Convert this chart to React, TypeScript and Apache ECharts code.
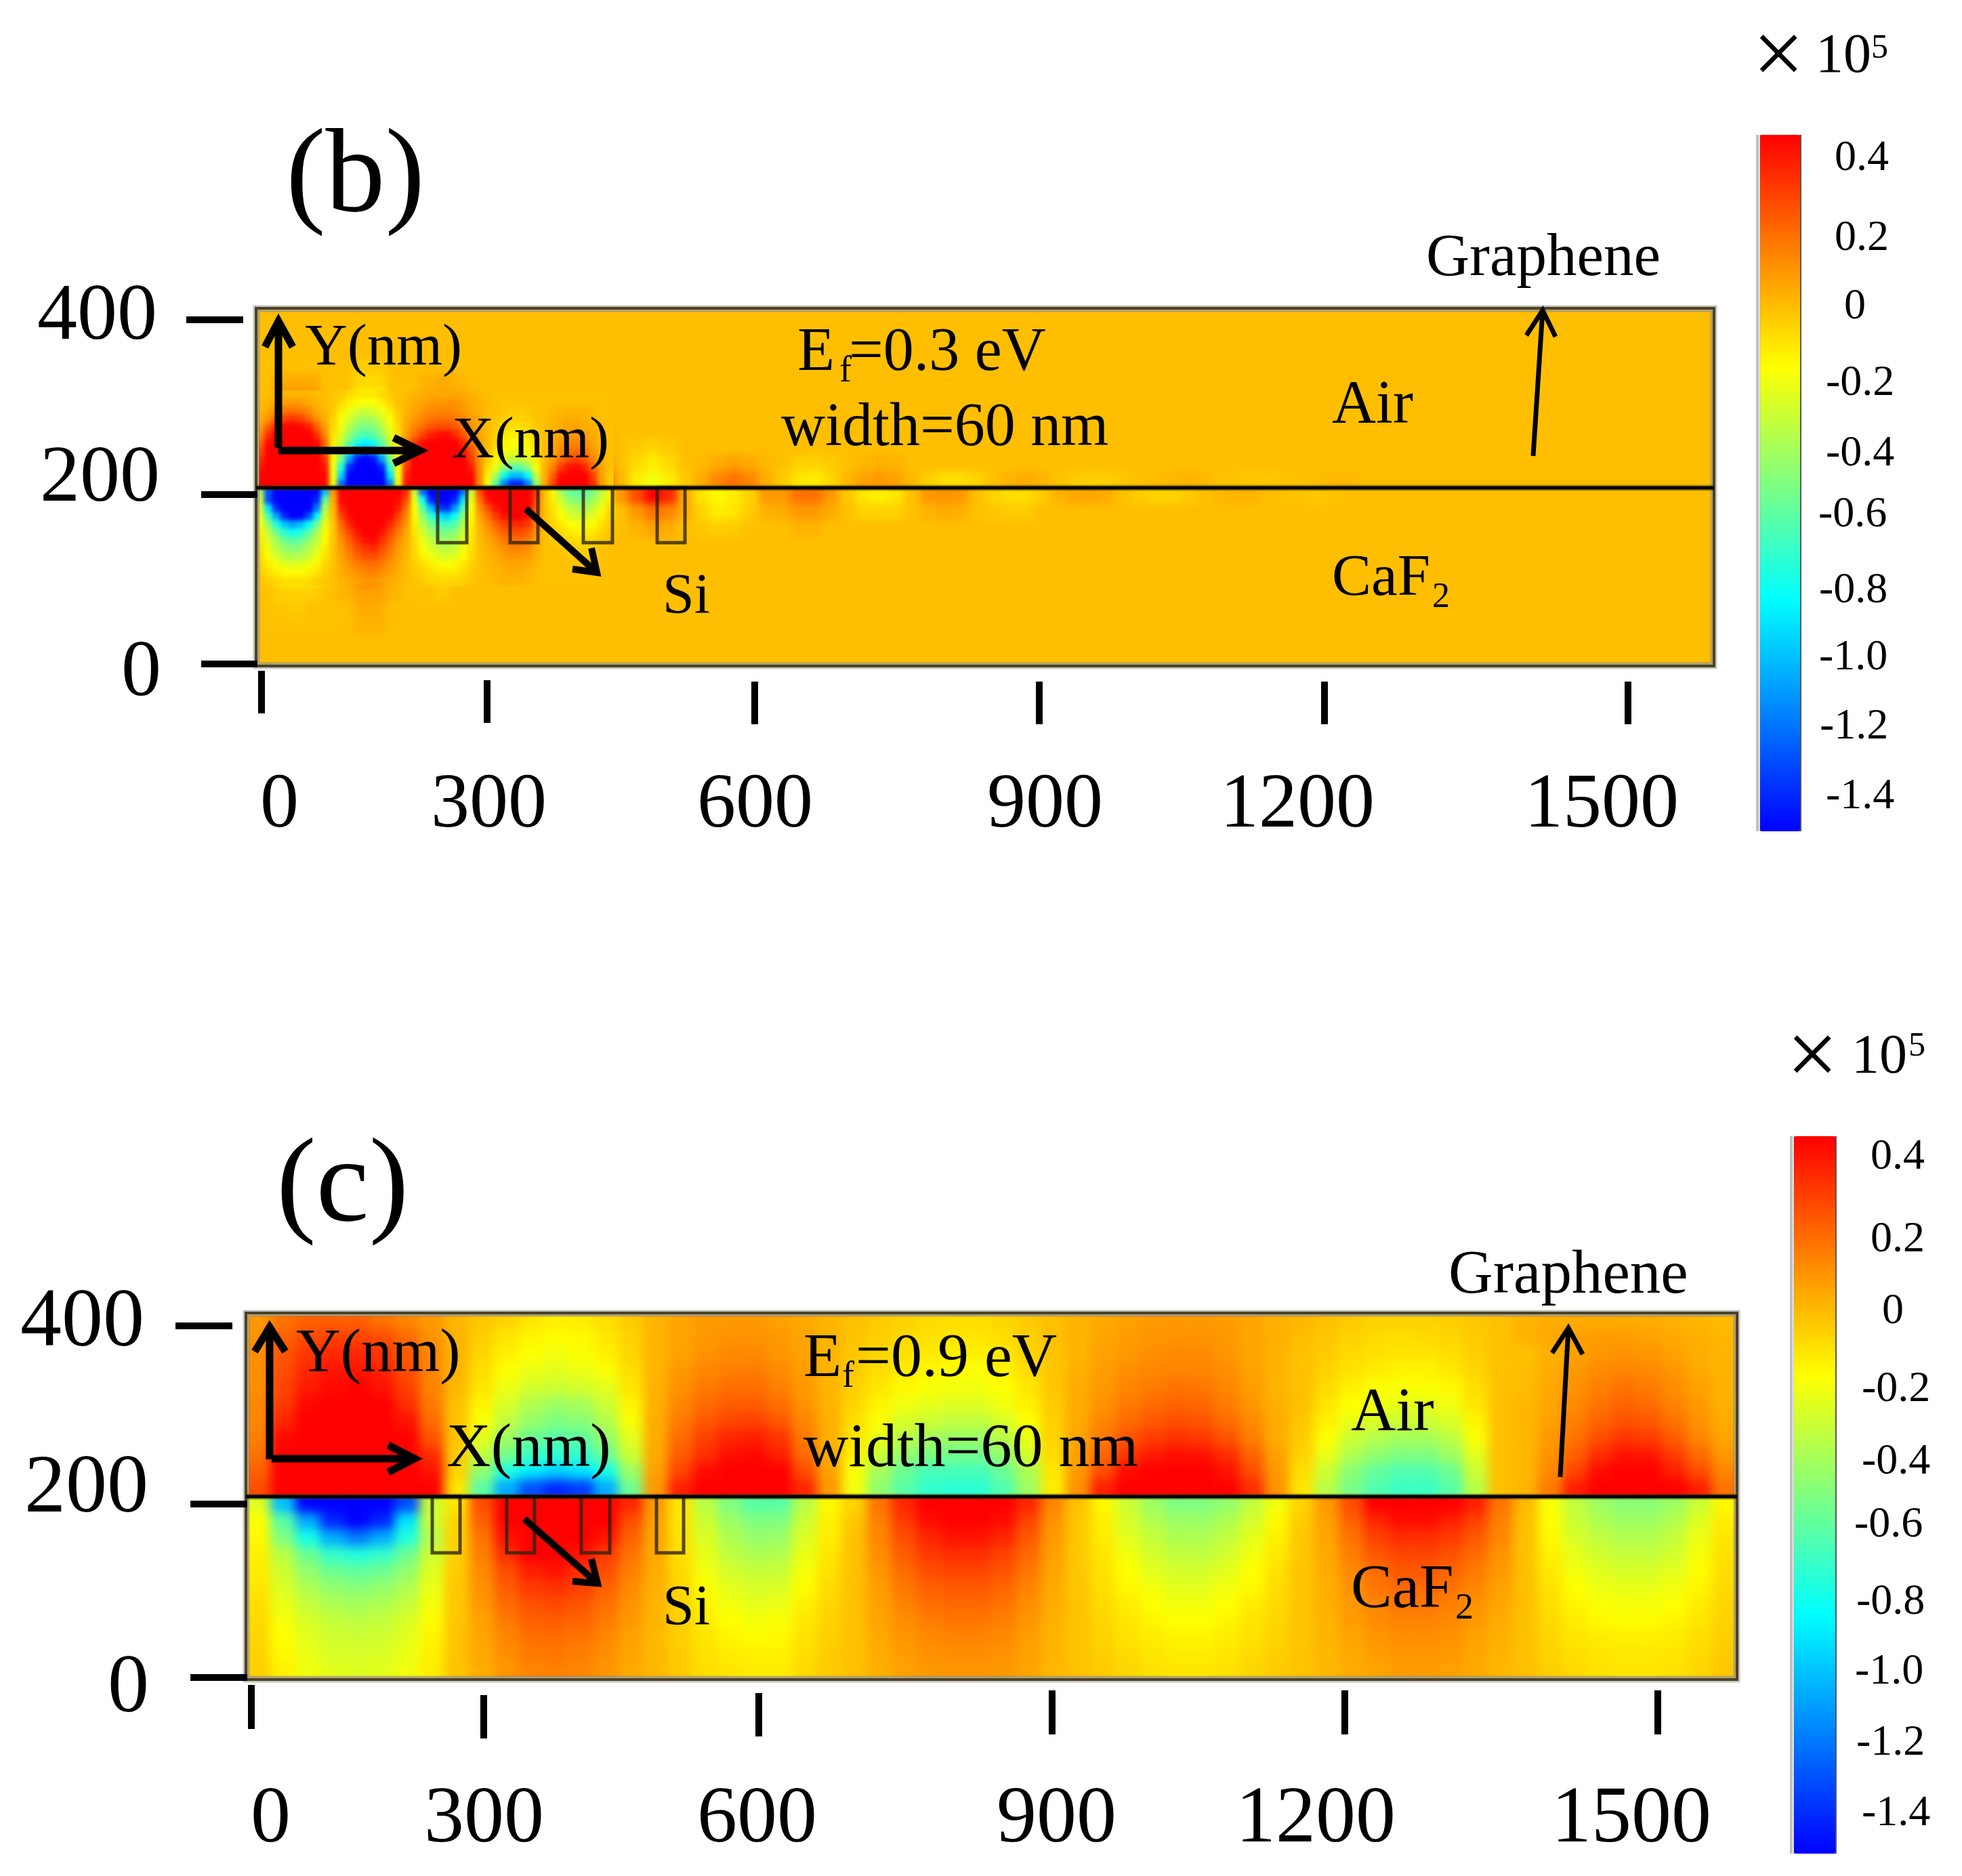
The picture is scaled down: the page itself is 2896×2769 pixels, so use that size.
import { useEffect, useRef } from 'react';
import * as echarts from 'echarts';

// colour scale of the field map, evenly spaced between scaleMin and scaleMax
const scaleMin = -1.5;
const scaleMax = 0.5;
const rainbow = ['#0000ff', '#0080ff', '#00ffff', '#80ff80', '#ffff00', '#ff8000', '#ff0000'];
const zeroColor = '#ffbf00';

const xTickLabels = ['0', '300', '600', '900', '1200', '1500'];
const yTickLabels = ['400', '200', '0'];
const barLabels = ['0.4', '0.2', '0', '-0.2', '-0.4', '-0.6', '-0.8', '-1.0', '-1.2', '-1.4'];

// field values, x10^5, top row first. Rows stop where the field has fallen to 0.
const airB = [
  [], [], [],
  [0, 0, 0, 0, 0, 0, -.03, -.03],
  [0, .05, .05, .05, 0, 0, -.07, -.07, 0, 0, .03, .05, .03],
  [0, .15, .17, .12, 0, -.02, -.15, -.15, -.02, 0, .07, .1, .08, .02],
  [.05, .35, .4, .3, .05, -.1, -.3, -.3, -.1, .05, .15, .2, .15, .05, 0, -.05, -.05, 0, 0, 0, .03],
  [.2, .5, .5, .5, .2, -.2, -.55, -.55, -.2, .1, .35, .45, .3, .05, 0, -.1, -.1, 0, 0, .05, .1, .05],
  [.3, .5, .5, .5, .3, -.4, -.95, -.95, -.5, .2, .5, .5, .5, .1, -.05, -.2, -.2, -.05, .05, .1, .2, .1, 0, -.03, -.05, -.03],
  [.4, .5, .5, .5, .4, -.9, -1.5, -1.5, -1.1, .4, .5, .5, .5, .3, -.15, -.55, -.5, -.15, .1, .3, .4, .2, 0, -.07, -.12, -.07, 0, .02, .05, .08, .06, .02, 0, -.04, -.05, -.03, 0, .02, .04, .03],
  [.5, .5, .5, .5, .3, -1.3, -1.5, -1.5, -1.4, .45, .5, .5, .5, .3, -.5, -1.2, -1.2, -.5, .05, .5, .5, .4, .02, -.12, -.2, -.12, -.03, .05, .15, .2, .15, .05, -.03, -.1, -.12, -.06, .02, .08, .1, .08, .02, -.04, -.08, -.08, -.05, 0, .03, .05, .03, 0, -.03, -.04, -.04, -.02, 0, .01, .02, .03, .02, 0, -.01, -.02, -.02, -.01, 0, .01, .02, .02],
];
const cafB = [
  [-1, -1.5, -1.5, -1.5, -.9, .5, .5, .5, .5, 0, -1.3, -1.5, -1.2, 0, .5, .5, .5, .3, -.1, -.5, -.5, -.3, .1, .3, .5, .4, .05, -.1, -.15, -.12, -.05, .1, .1, .2, .2, .1, -.02, -.1, -.13, -.1, 0, .1, .12, .1, 0, -.05, -.08, -.08, -.03, .03, .06, .07, .05, 0, -.03, -.05, -.05, -.03, 0, .02, .03, .03, .01, 0, -.01, -.02, -.01],
  [-.9, -1.5, -1.5, -1.5, -.1, .4, .5, .5, .4, -.1, -.8, -1.2, -.8, -.1, .2, .5, .45, .2, 0, -.15, -.25, -.15, 0, .1, .2, .15, .05, -.05, -.12, -.1, -.03, .03, .05, .1, .1, .05, 0, -.05, -.05, -.05, 0, .03, .05, .04, 0, -.02, -.03, -.03],
  [-.35, -.7, -.85, -.7, -.15, .25, .5, .5, .25, -.05, -.3, -.5, -.35, -.05, .1, .25, .2, .05, 0, -.05, -.08, -.05, 0, .03, .08, .05, 0, -.02, -.04, -.03, 0, 0, 0, .03, .03],
  [-.1, -.35, -.45, -.35, -.1, .15, .45, .45, .15, -.03, -.15, -.22, -.15, -.03, .05, .1, .1, .03],
  [-.05, -.2, -.25, -.2, -.05, .1, .25, .25, .1, 0, -.08, -.12, -.08, 0, 0, .05, .05],
  [-.03, -.12, -.15, -.12, -.03, .05, .18, .18, .05, 0, -.05, -.06, -.05],
  [0, -.04, -.05, -.04, 0, .03, .08, .08, .03, 0, 0, -.03],
  [0, -.02, -.03, 0, 0, 0, .05, .05],
  [0, 0, 0, 0, 0, 0, .03, .03],
  [],
  [],
];

// finer reading of the strong lobes at the left of panel (b), 12px cells
const lobesAirB = [
  [0, .01, .02, .03, .03, .03, .02, .01, 0, -.01, -.03, -.07, -.1, -.11, -.1, -.07, -.03, 0, .01, .03, .04, .05, .06, .06, .06, .05, .03, .02, .01, 0, 0, 0, 0, 0, 0, 0, 0, 0, 0, 0, 0, 0, 0, 0],
  [.01, .03, .06, .09, .1, .09, .06, .03, .01, -.02, -.07, -.13, -.17, -.18, -.17, -.13, -.06, -.01, .02, .05, .08, .1, .11, .12, .12, .09, .06, .03, .01, 0, -.01, -.01, -.01, 0, 0, 0, 0, 0, 0, 0, 0, 0, 0, 0],
  [.02, .06, .13, .18, .2, .18, .13, .06, .02, -.03, -.12, -.2, -.27, -.3, -.27, -.2, -.11, -.02, .03, .07, .11, .14, .15, .15, .14, .11, .07, .04, .01, 0, -.02, -.03, -.03, -.02, -.01, 0, .01, .02, .03, .03, .03, .01, 0, 0],
  [.04, .12, .24, .33, .36, .33, .24, .12, .04, -.05, -.17, -.28, -.37, -.4, -.37, -.28, -.16, -.04, .05, .1, .15, .19, .21, .21, .19, .15, .09, .05, .01, -.01, -.04, -.05, -.05, -.04, -.01, 0, .02, .04, .05, .05, .04, .02, 0, 0],
  [.08, .25, .42, .48, .5, .48, .42, .25, .08, -.07, -.21, -.36, -.48, -.52, -.48, -.36, -.21, -.06, .07, .15, .22, .28, .31, .31, .27, .2, .12, .06, .01, -.03, -.06, -.08, -.08, -.06, -.02, 0, .03, .05, .07, .07, .06, .03, .01, 0],
  [.14, .38, .5, .5, .5, .5, .5, .38, .14, -.09, -.26, -.45, -.6, -.65, -.6, -.45, -.25, -.08, .1, .22, .33, .42, .47, .47, .4, .28, .16, .07, .01, -.05, -.1, -.13, -.13, -.1, -.04, 0, .04, .07, .1, .11, .09, .05, .01, 0],
  [.22, .48, .5, .5, .5, .5, .5, .48, .22, -.12, -.33, -.58, -.78, -.85, -.78, -.58, -.32, -.1, .15, .35, .47, .5, .5, .5, .5, .4, .22, .09, .01, -.07, -.14, -.17, -.17, -.14, -.06, 0, .05, .1, .14, .15, .12, .07, .02, 0],
  [.3, .5, .5, .5, .5, .5, .5, .5, .3, -.15, -.42, -.78, -1.1, -1.25, -1.1, -.78, -.4, -.13, .22, .45, .5, .5, .5, .5, .5, .48, .28, .1, 0, -.1, -.18, -.22, -.22, -.18, -.08, .01, .07, .14, .2, .22, .18, .1, .03, 0],
  [.38, .5, .5, .5, .5, .5, .5, .5, .38, -.17, -.55, -1.1, -1.45, -1.5, -1.45, -1.1, -.52, -.15, .3, .5, .5, .5, .5, .5, .5, .5, .35, .12, -.03, -.14, -.26, -.32, -.32, -.26, -.12, .02, .1, .22, .3, .33, .27, .15, .05, 0],
  [.44, .5, .5, .5, .5, .5, .5, .5, .44, -.2, -.75, -1.4, -1.5, -1.5, -1.5, -1.4, -.72, -.17, .35, .5, .5, .5, .5, .5, .5, .5, .42, .13, -.08, -.22, -.45, -.6, -.6, -.45, -.18, .03, .16, .35, .45, .48, .4, .22, .07, 0],
  [.48, .5, .5, .5, .5, .5, .5, .5, .48, -.2, -.95, -1.5, -1.5, -1.5, -1.5, -1.5, -.9, -.18, .42, .5, .5, .5, .5, .5, .5, .5, .48, .14, -.13, -.4, -.8, -1, -1, -.8, -.3, .04, .25, .48, .5, .5, .5, .32, .08, -.02],
  [.5, .5, .5, .5, .5, .5, .5, .5, .48, -.22, -1.2, -1.5, -1.5, -1.5, -1.5, -1.5, -1.15, -.2, .45, .5, .5, .5, .5, .5, .5, .5, .5, .15, -.2, -.6, -1.15, -1.4, -1.4, -1.15, -.45, .05, .32, .5, .5, .5, .5, .38, .1, -.03],
];
const lobesCafB = [
  [-.4, -1.3, -1.5, -1.5, -1.5, -1.5, -1.5, -1.5, -1, .1, .5, .5, .5, .5, .5, .5, .5, .5, .4, -.3, -1.2, -1.5, -1.5, -1.5, -1.5, -1.2, -.3, .3, .5, .5, .5, .5, .5, .5, .35, 0, -.15, -.4, -.55, -.6, -.6, -.5, -.35, -.15],
  [-.3, -1.3, -1.5, -1.5, -1.5, -1.5, -1.5, -1.4, -.6, .05, .48, .5, .5, .5, .5, .5, .5, .48, .3, -.22, -.8, -1.4, -1.5, -1.5, -1.4, -.9, -.22, .2, .45, .5, .5, .5, .5, .5, .3, 0, -.12, -.3, -.45, -.5, -.5, -.42, -.28, -.12],
  [-.25, -.9, -1.4, -1.5, -1.5, -1.5, -1.5, -1.2, -.4, .02, .42, .5, .5, .5, .5, .5, .5, .43, .2, -.17, -.6, -1, -1.35, -1.4, -1.1, -.65, -.18, .12, .3, .45, .5, .5, .5, .5, .25, 0, -.1, -.22, -.33, -.38, -.38, -.32, -.2, -.08],
  [-.2, -.65, -1.05, -1.4, -1.5, -1.5, -1.3, -.85, -.3, 0, .32, .48, .5, .5, .5, .5, .48, .33, .14, -.15, -.45, -.7, -.9, -.95, -.8, -.48, -.15, .07, .2, .35, .45, .5, .5, .45, .2, 0, -.08, -.16, -.25, -.28, -.28, -.24, -.14, -.05],
  [-.17, -.45, -.75, -.98, -1.08, -1, -.82, -.55, -.22, -.02, .24, .4, .5, .5, .5, .5, .4, .25, .1, -.12, -.35, -.52, -.65, -.68, -.6, -.38, -.13, .04, .13, .25, .33, .4, .4, .35, .15, 0, -.05, -.11, -.17, -.2, -.2, -.16, -.09, -.03],
  [-.14, -.33, -.55, -.72, -.8, -.74, -.6, -.4, -.18, -.02, .18, .32, .45, .5, .5, .45, .32, .18, .07, -.1, -.27, -.4, -.5, -.52, -.47, -.3, -.11, .02, .09, .17, .25, .3, .3, .26, .12, 0, -.03, -.07, -.11, -.13, -.13, -.1, -.05, -.01],
  [-.11, -.27, -.42, -.54, -.6, -.56, -.46, -.32, -.15, -.02, .13, .25, .37, .46, .48, .37, .25, .13, .05, -.08, -.21, -.32, -.4, -.42, -.38, -.25, -.09, .01, .06, .12, .18, .22, .22, .18, .08, 0, -.02, -.04, -.07, -.08, -.08, -.06, -.03, 0],
  [-.09, -.22, -.34, -.43, -.48, -.45, -.37, -.26, -.12, -.01, .1, .2, .3, .36, .38, .3, .2, .1, .03, -.06, -.17, -.26, -.32, -.34, -.3, -.2, -.08, 0, .04, .08, .12, .16, .16, .13, .05, 0, 0, -.02, -.04, -.05, -.05, -.03, -.01, 0],
  [-.07, -.18, -.27, -.34, -.37, -.35, -.3, -.21, -.1, -.01, .08, .16, .24, .29, .3, .24, .16, .08, .02, -.05, -.13, -.2, -.25, -.27, -.24, -.17, -.07, 0, .03, .05, .09, .11, .11, .09, .03, 0, 0, -.01, -.02, -.03, -.03, -.02, 0, 0],
  [-.05, -.12, -.18, -.23, -.24, -.23, -.2, -.14, -.06, -.01, .06, .11, .17, .2, .21, .17, .11, .06, .01, -.04, -.08, -.12, -.15, -.16, -.14, -.1, -.05, 0, .02, .04, .06, .07, .07, .05, .02, 0, 0, 0, -.01, -.01, -.01, -.01, 0, 0],
  [-.03, -.08, -.12, -.15, -.16, -.15, -.13, -.09, -.04, 0, .05, .08, .12, .15, .16, .13, .08, .05, .01, -.03, -.05, -.08, -.1, -.11, -.1, -.07, -.03, 0, .01, .03, .04, .05, .05, .04, .01, 0, 0, 0, 0, 0, 0, 0, 0, 0],
  [-.01, -.04, -.06, -.08, -.08, -.08, -.07, -.04, -.02, 0, .03, .05, .08, .1, .11, .08, .05, .03, 0, -.01, -.03, -.05, -.06, -.06, -.05, -.04, -.02, 0, .01, .02, .03, .03, .03, .02, .01, 0, 0, 0, 0, 0, 0, 0, 0, 0],
];

// field values, x10^5, top row first
const airC = [
  [.1, .2, .25, .25, .25, .2, .15, .1, .03, -.02, -.05, -.1, -.13, -.12, -.08, -.03, .03, .07, .1, .1, .1, .08, .06, .03, 0, -.03, -.05, -.07, -.08, -.08, -.06, -.03, 0, .03, .06, .08, .1, .1, .1, .09, .07, .04, .02, 0, -.03, -.05, -.05, -.05, -.04, -.02, 0, .03, .05, .05, .06, .05, .05, .04, .02, .01],
  [.12, .25, .3, .33, .33, .3, .22, .12, .03, -.04, -.1, -.14, -.16, -.15, -.11, -.05, .03, .07, .1, .12, .12, .1, .07, .03, -.01, -.04, -.07, -.09, -.1, -.1, -.08, -.04, 0, .03, .07, .09, .11, .12, .12, .1, .07, .04, .01, -.02, -.05, -.07, -.08, -.07, -.06, -.03, 0, .03, .06, .08, .09, .09, .08, .06, .04, .02],
  [.13, .28, .36, .4, .4, .36, .27, .14, .03, -.06, -.13, -.17, -.2, -.18, -.13, -.06, .03, .08, .12, .14, .14, .11, .08, .03, -.02, -.06, -.09, -.11, -.13, -.13, -.1, -.06, -.01, .03, .08, .1, .13, .14, .14, .11, .07, .03, 0, -.03, -.07, -.09, -.1, -.1, -.08, -.04, 0, 0, .04, .08, .11, .12, .11, .08, .05, .03],
  [.13, .3, .4, .45, .45, .42, .3, .15, .03, -.08, -.17, -.22, -.24, -.22, -.18, -.08, .03, .1, .15, .17, .18, .14, .09, .03, -.03, -.08, -.12, -.15, -.17, -.17, -.14, -.08, -.02, .04, .09, .13, .15, .16, .16, .13, .08, .03, 0, -.05, -.09, -.12, -.14, -.14, -.11, -.06, 0, .01, .05, .1, .14, .16, .14, .11, .06, .03],
  [.13, .32, .43, .48, .5, .45, .33, .16, .02, -.1, -.22, -.28, -.3, -.28, -.24, -.1, .04, .12, .18, .21, .21, .17, .1, .03, -.04, -.1, -.15, -.18, -.2, -.2, -.17, -.1, -.02, .05, .1, .15, .18, .2, .19, .15, .09, .03, 0, -.07, -.13, -.17, -.18, -.18, -.15, -.08, 0, .01, .06, .12, .17, .2, .18, .13, .08, .03],
  [.15, .35, .48, .5, .5, .5, .38, .18, 0, -.14, -.27, -.37, -.42, -.4, -.3, -.14, .04, .15, .22, .26, .26, .21, .12, .03, -.06, -.14, -.2, -.23, -.25, -.25, -.2, -.13, -.03, .05, .12, .18, .22, .24, .23, .18, .11, .04, 0, -.1, -.17, -.2, -.23, -.23, -.2, -.1, 0, .02, .07, .14, .2, .24, .22, .16, .1, .04],
  [.15, .4, .5, .5, .5, .5, .45, .22, -.01, -.18, -.33, -.44, -.5, -.48, -.37, -.18, .05, .18, .27, .32, .33, .27, .15, .04, -.08, -.18, -.27, -.3, -.33, -.33, -.27, -.17, -.04, .06, .15, .22, .27, .3, .28, .22, .14, .05, -.02, -.13, -.22, -.27, -.3, -.3, -.26, -.14, 0, .02, .08, .17, .24, .29, .27, .2, .12, .05],
  [.17, .48, .5, .5, .5, .5, .5, .28, -.02, -.24, -.42, -.55, -.6, -.58, -.45, -.24, .05, .22, .33, .4, .42, .36, .18, .04, -.1, -.22, -.35, -.4, -.43, -.43, -.35, -.22, -.05, .07, .18, .28, .34, .37, .35, .28, .17, .05, -.03, -.17, -.3, -.36, -.4, -.4, -.34, -.18, 0, .02, .1, .2, .3, .36, .34, .26, .15, .07],
  [.2, .5, .5, .5, .5, .5, .5, .38, -.03, -.32, -.52, -.68, -.72, -.7, -.55, -.3, .06, .26, .38, .46, .48, .42, .22, .06, -.13, -.3, -.45, -.5, -.53, -.53, -.45, -.28, -.07, .08, .23, .36, .43, .46, .45, .38, .24, .08, -.05, -.22, -.37, -.45, -.5, -.5, -.42, -.24, 0, .02, .12, .25, .38, .45, .44, .34, .22, .1],
  [.25, .5, .5, .5, .5, .5, .5, .45, -.05, -.45, -.75, -.88, -.95, -.9, -.78, -.42, .08, .32, .47, .5, .5, .5, .3, .08, -.18, -.4, -.55, -.65, -.65, -.65, -.55, -.38, -.1, .1, .3, .47, .5, .5, .5, .45, .3, .1, -.08, -.3, -.47, -.57, -.62, -.62, -.55, -.3, 0, .02, .14, .32, .47, .5, .5, .42, .3, .15],
  [.3, .5, .5, .5, .5, .5, .5, .5, -.1, -.6, -1.05, -1.3, -1.4, -1.35, -1.05, -.55, .1, .42, .5, .5, .5, .5, .4, .1, -.2, -.45, -.6, -.7, -.72, -.72, -.62, -.42, -.12, .12, .42, .5, .5, .5, .5, .5, .38, .12, -.1, -.35, -.52, -.62, -.68, -.68, -.6, -.35, 0, .03, .18, .42, .5, .5, .5, .5, .42, .2],
];
const cafC = [
  [-.25, -1, -1.5, -1.5, -1.5, -1.5, -1.3, -.3, -.1, .3, .5, .5, .5, .5, .5, .4, .1, -.1, -.35, -.5, -.6, -.6, -.35, -.15, -.05, .2, .4, .5, .5, .5, .5, .4, .15, 0, -.15, -.3, -.42, -.5, -.5, -.45, -.33, -.2, -.05, .1, .3, .5, .5, .5, .5, .42, .2, .02, -.18, -.33, -.42, -.47, -.47, -.42, -.3, -.15],
  [-.17, -.6, -1.05, -1.4, -1.5, -1.4, -.9, -.3, -.05, .25, .5, .5, .5, .5, .5, .3, .08, -.1, -.3, -.43, -.5, -.5, -.3, -.13, -.02, .17, .35, .47, .5, .5, .47, .32, .12, -.02, -.13, -.27, -.37, -.43, -.43, -.38, -.28, -.15, -.03, .08, .25, .4, .47, .47, .42, .33, .17, 0, -.16, -.3, -.38, -.42, -.42, -.37, -.25, -.12],
  [-.15, -.5, -.78, -1.05, -1.18, -1.05, -.75, -.35, -.05, .2, .45, .5, .5, .5, .45, .25, .07, -.09, -.26, -.38, -.44, -.43, -.26, -.12, 0, .15, .3, .4, .45, .45, .4, .27, .1, -.02, -.12, -.24, -.32, -.38, -.38, -.33, -.24, -.13, -.02, .07, .2, .33, .38, .38, .35, .27, .15, 0, -.15, -.27, -.33, -.37, -.37, -.32, -.22, -.1],
  [-.13, -.35, -.55, -.7, -.75, -.7, -.55, -.3, -.04, .17, .38, .5, .5, .45, .35, .2, .06, -.08, -.23, -.33, -.38, -.37, -.22, -.1, 0, .13, .26, .35, .38, .38, .33, .23, .08, -.02, -.1, -.2, -.28, -.33, -.33, -.28, -.2, -.11, -.02, .06, .17, .27, .32, .32, .29, .22, .12, 0, -.13, -.23, -.29, -.32, -.32, -.28, -.19, -.09],
  [-.12, -.3, -.45, -.55, -.58, -.55, -.45, -.25, -.03, .14, .3, .42, .45, .38, .3, .17, .05, -.07, -.2, -.28, -.32, -.31, -.19, -.09, 0, .11, .22, .3, .32, .32, .28, .19, .07, -.02, -.09, -.17, -.24, -.28, -.28, -.24, -.17, -.09, -.01, .05, .14, .22, .27, .27, .24, .18, .1, 0, -.11, -.2, -.25, -.27, -.27, -.24, -.16, -.08],
  [-.1, -.26, -.38, -.45, -.48, -.45, -.38, -.22, -.02, .12, .26, .35, .37, .33, .25, .14, .04, -.06, -.17, -.24, -.27, -.26, -.16, -.07, 0, .09, .19, .25, .27, .27, .24, .16, .06, -.02, -.08, -.15, -.2, -.24, -.24, -.2, -.15, -.08, -.01, .04, .12, .19, .23, .23, .2, .15, .08, 0, -.09, -.17, -.21, -.23, -.23, -.2, -.14, -.07],
  [-.08, -.22, -.32, -.38, -.4, -.38, -.32, -.19, -.02, .1, .22, .29, .31, .28, .21, .12, .03, -.05, -.14, -.2, -.23, -.22, -.13, -.06, 0, .08, .16, .21, .23, .23, .2, .13, .05, -.01, -.07, -.12, -.17, -.2, -.2, -.17, -.12, -.07, -.01, .04, .1, .16, .19, .19, .17, .12, .07, 0, -.08, -.14, -.18, -.19, -.19, -.17, -.12, -.06],
  [-.07, -.19, -.27, -.32, -.34, -.32, -.27, -.16, -.02, .08, .18, .25, .26, .24, .18, .1, .03, -.04, -.12, -.17, -.19, -.18, -.11, -.05, 0, .07, .13, .17, .19, .19, .17, .11, .04, -.01, -.06, -.1, -.14, -.17, -.17, -.14, -.1, -.06, -.01, .03, .09, .13, .16, .16, .14, .1, .05, 0, -.07, -.12, -.15, -.16, -.16, -.14, -.1, -.05],
  [-.06, -.17, -.24, -.29, -.3, -.29, -.24, -.14, -.01, .07, .15, .21, .22, .2, .15, .08, .02, -.04, -.1, -.14, -.16, -.15, -.09, -.04, 0, .06, .11, .14, .16, .16, .14, .09, .03, -.01, -.05, -.09, -.12, -.14, -.14, -.12, -.09, -.05, -.01, .03, .07, .11, .13, .13, .12, .08, .04, 0, -.06, -.1, -.12, -.13, -.13, -.12, -.08, -.04],
  [-.05, -.15, -.22, -.26, -.27, -.26, -.22, -.13, -.01, .06, .13, .18, .19, .17, .13, .07, .02, -.03, -.09, -.12, -.13, -.13, -.08, -.03, 0, .05, .09, .12, .13, .13, .12, .08, .03, -.01, -.04, -.07, -.1, -.12, -.12, -.1, -.07, -.04, -.01, .02, .06, .09, .11, .11, .1, .07, .03, 0, -.05, -.08, -.1, -.11, -.11, -.1, -.07, -.03],
  [-.04, -.13, -.2, -.24, -.25, -.24, -.2, -.12, -.01, .05, .11, .15, .16, .15, .11, .06, .02, -.03, -.08, -.1, -.12, -.12, -.07, -.03, 0, .04, .08, .1, .11, .11, .1, .07, .02, -.01, -.03, -.06, -.09, -.1, -.1, -.09, -.06, -.03, -.01, .02, .05, .07, .09, .09, .08, .06, .02, 0, -.04, -.07, -.09, -.1, -.1, -.09, -.06, -.02],
];

// layout in page pixels. The scales in the figure are hand placed and not even, so they are listed.
const FONT = 'Liberation Serif';
const panels = [
  {
    frame: [378, 455, 2530, 983], line: 720, cols: 90, blur: 6, air: airB, caf: cafB,
    lobes: [
      { rows: lobesAirB, box: [378, 576, 528, 144] },
      { rows: lobesCafB, box: [378, 720, 528, 144] },
    ],
    si: [[646, 689], [753, 794], [861, 904], [970, 1011]], siBottom: 801,
    xTicks: [[386, 990, 1053], [719, 1004, 1067], [1114, 1006, 1069], [1534, 1006, 1069], [1955, 1006, 1069], [2403, 1006, 1069]],
    xLabelX: [384, 636, 1029, 1457, 1801, 2250], xLabelY: 1181, xLabelSize: 114,
    yTicks: [[275, 359, 472], [297, 380, 730], [297, 380, 980]],
    yLabelPos: [[55, 460], [59, 699], [179, 986]], yLabelSize: 118,
    tag: ['(b)', 422, 251, 176],
    arrows: [
      [411, 661, 411, 474, 391, 512, 432, 512, 11],
      [411, 665, 620, 665, 581, 646, 581, 684, 11],
      [776, 751, 881, 845, 873, 809, 845, 840, 10],
      [2263, 673, 2277, 458, 2253, 495, 2296, 497, 7],
    ],
    texts: [
      ['Y(nm)', 450, 508, 87], ['X(nm)', 667, 645, 87], ['Si', 978, 876, 84],
      ['Graphene', 2105, 376, 89], ['E', 1177, 515, 90], ['f', 1239, 545, 54], ['=0.3 eV', 1253, 515, 90],
      ['width=60 nm', 1153, 626, 90], ['Air', 1966, 593, 90], ['CaF', 1966, 848, 87], ['2', 2114, 878, 52],
    ],
    bar: [2598, 199, 2657, 1227],
    barTicks: [247, 350, 453, 556, 659, 761, 865, 969, 1072, 1176],
    barLabelX: [2708, 2708, 2722, 2695, 2695, 2684, 2685, 2685, 2686, 2695],
    barLabelY: [229, 347, 448, 561, 665, 755, 867, 966, 1068, 1171],
    exponent: [2625, 78, 2680, 78, 2762, 68],
  },
  {
    frame: [363, 1938, 2564, 2479], line: 2209, cols: 60, blur: 8, air: airC, caf: cafC, lobes: [],
    si: [[638, 679], [748, 789], [858, 900], [969, 1009]], siBottom: 2292,
    xTicks: [[371, 2487, 2552], [714, 2502, 2566], [1120, 2499, 2563], [1553, 2495, 2560], [1985, 2495, 2560], [2447, 2495, 2560]],
    xLabelX: [370, 626, 1029, 1471, 1824, 2290], xLabelY: 2678, xLabelSize: 118,
    yTicks: [[259, 343, 1957], [281, 365, 2220], [281, 365, 2476]],
    yLabelPos: [[30, 1944], [36, 2189], [159, 2484]], yLabelSize: 122,
    tag: ['(c)', 408, 1741, 176],
    arrows: [
      [398, 2154, 398, 1959, 376, 1995, 421, 1995, 11],
      [401, 2153, 612, 2153, 573, 2133, 573, 2173, 11],
      [774, 2242, 882, 2337, 873, 2301, 845, 2334, 10],
      [2303, 2180, 2315, 1960, 2291, 1997, 2336, 1999, 7],
    ],
    texts: [
      ['Y(nm)', 437, 1993, 91], ['X(nm)', 659, 2133, 91], ['Si', 978, 2369, 84],
      ['Graphene', 2138, 1877, 91], ['E', 1186, 2000, 92], ['f', 1243, 2029, 54], ['=0.9 eV', 1263, 2000, 92],
      ['width=60 nm', 1186, 2133, 92], ['Air', 1994, 2080, 92], ['CaF', 1994, 2341, 91], ['2', 2148, 2371, 54],
    ],
    bar: [2648, 1677, 2709, 2736],
    barTicks: [1728, 1833, 1939, 2045, 2150, 2256, 2363, 2469, 2576, 2683],
    barLabelX: [2761, 2761, 2778, 2748, 2748, 2737, 2740, 2738, 2740, 2748],
    barLabelY: [1703, 1825, 1931, 2046, 2153, 2246, 2360, 2463, 2568, 2672],
    exponent: [2675, 1555, 2733, 1555, 2817, 1541],
  },
];

const text = (t: string, x: number, y: number, size: number, align = 'left') => ({
  type: 'text', x, y, silent: true,
  style: { text: t, fontFamily: FONT, fontSize: size, fill: '#000', align, verticalAlign: 'middle' },
});
const line = (x1: number, y1: number, x2: number, y2: number, stroke: string, lineWidth: number) => ({
  type: 'line', silent: true, shape: { x1, y1, x2, y2 }, style: { stroke, lineWidth },
});
const outline = (x: number, y: number, width: number, height: number, stroke: string, lineWidth: number) => ({
  type: 'rect', silent: true, shape: { x, y, width, height }, style: { fill: 'none', stroke, lineWidth },
});

const panelGraphics = (p: any) => {
  const [l, t, r, b] = p.frame;
  const out: any[] = [
    outline(l, t, r - l, b - t, '#c6c6c6', 9),
    outline(l + 3, t + 3, r - l - 6, b - t - 6, 'rgba(90,70,0,0.28)', 5),
    outline(l, t, r - l, b - t, '#4e4320', 4),
    line(l, p.line, r, p.line, 'rgba(70,60,0,0.4)', 9),
  ];
  p.si.forEach(([a, c]: number[]) => out.push(outline(a, p.line, c - a, p.siBottom - p.line, 'rgba(45,35,15,0.8)', 5)));
  out.push(line(l, p.line, r, p.line, '#000', 5));
  p.arrows.forEach(([x1, y1, x2, y2, hx1, hy1, hx2, hy2, w]: number[]) => {
    out.push(line(x1, y1, x2, y2, '#000', w));
    out.push({
      type: 'polyline', silent: true,
      shape: { points: [[hx1, hy1], [x2, y2], [hx2, hy2]] },
      style: { stroke: '#000', lineWidth: w, fill: 'none' },
    });
  });
  p.texts.forEach(([s, x, y, size]: any[]) => out.push(text(s, x, y, size)));
  out.push(text(p.tag[0], p.tag[1], p.tag[2], p.tag[3]));
  p.xTicks.forEach(([x, y1, y2]: number[], i: number) => {
    out.push(line(x, y1, x, y2, '#000', 10));
    out.push(text(xTickLabels[i], p.xLabelX[i], p.xLabelY, p.xLabelSize));
  });
  p.yTicks.forEach(([x1, x2, y]: number[], i: number) => {
    out.push(line(x1, y, x2, y, '#000', 10));
    out.push(text(yTickLabels[i], p.yLabelPos[i][0], p.yLabelPos[i][1], p.yLabelSize));
  });
  const [bl, bt, br, bb] = p.bar;
  out.push(line(bl - 4, bt, bl - 4, bb, '#c0c0c0', 4));
  out.push(line(bl + 2, bt, bl + 2, bb, 'rgba(30,30,30,0.55)', 5));
  out.push(line(br, bt, br, bb, 'rgba(60,60,60,0.85)', 4));
  p.barTicks.forEach((y: number, i: number) => {
    out.push(line(bl, y, bl + 11, y, 'rgba(30,30,30,0.65)', 2));
    out.push(line(br - 11, y, br, y, 'rgba(30,30,30,0.65)', 2));
    out.push(text(barLabels[i], p.barLabelX[i], p.barLabelY[i], 64));
  });
  const [ex, ey, tx, ty, fx, fy] = p.exponent;
  out.push(text('×', ex, ey, 135, 'center'));
  out.push(text('10', tx, ty, 82));
  out.push(text('5', fx, fy, 50));
  return out;
};

// one block of a panel: typed cells through a heatmap, softened like the rendering of the original.
// One extra cell all round repeats the edge so the blur has no empty border; it is clipped away.
const Field = ({ rows, cols, box, blur }: any) => {
  const ref = useRef<HTMLDivElement>(null);
  useEffect(() => {
    const chart = echarts.init(ref.current, undefined, { renderer: 'svg' });
    const wide = rows.map((row: number[]) =>
      row.length ? [row[0], ...row, ...(row.length === cols ? [row[cols - 1]] : [])] : row);
    const padded = [wide[0], ...wide, wide[wide.length - 1]];
    const data: number[][] = [];
    padded.forEach((row: number[], y: number) => row.forEach((v, x) => data.push([x, y, v])));
    chart.setOption({
      animation: false,
      grid: { left: 0, right: 0, top: 0, bottom: 0 },
      xAxis: { type: 'category', show: false, data: Array.from({ length: cols + 2 }, (_, i) => i) },
      yAxis: { type: 'category', show: false, inverse: true, data: padded.map((_: any, i: number) => i) },
      visualMap: { show: false, min: scaleMin, max: scaleMax, inRange: { color: rainbow } },
      series: [{ type: 'heatmap', data, silent: true, progressive: 0 }],
    });
    return () => chart.dispose();
  }, []);
  const cw = box[2] / cols;
  const ch = box[3] / rows.length;
  return (
    <div style={{ position: 'absolute', left: box[0], top: box[1], width: box[2], height: box[3], overflow: 'hidden', background: zeroColor }}>
      <div ref={ref} style={{ position: 'absolute', left: -cw, top: -ch, width: box[2] + 2 * cw, height: box[3] + 2 * ch, filter: `blur(${blur}px)` }} />
    </div>
  );
};

const App = () => {
  const ref = useRef<HTMLDivElement>(null);
  useEffect(() => {
    document.body.style.margin = '0';
    const chart = echarts.init(ref.current, undefined, { renderer: 'svg' });
    chart.setOption({
      animation: false,
      visualMap: panels.map((p) => ({
        type: 'continuous', min: scaleMin, max: scaleMax, inRange: { color: rainbow },
        left: p.bar[0], top: p.bar[1], itemWidth: p.bar[2] - p.bar[0], itemHeight: p.bar[3] - p.bar[1],
        padding: 0, calculable: false, hoverLink: false, showLabel: false, text: undefined,
      })),
      graphic: { elements: panels.flatMap(panelGraphics) },
    });
    return () => chart.dispose();
  }, []);
  return (
    <div style={{ position: 'relative', width: 2896, height: 2769, background: '#fff', overflow: 'hidden' }}>
      {panels.map((p, i) => {
        const [l, t, r, b] = p.frame;
        return (
          <div key={i}>
            <Field rows={p.air} cols={p.cols} blur={p.blur} box={[l, t, r - l, p.line - t]} />
            <Field rows={p.caf} cols={p.cols} blur={p.blur} box={[l, p.line, r - l, b - p.line]} />
            {p.lobes.map((d: any, j: number) => (
              <Field key={j} rows={d.rows} cols={d.rows[0].length} blur={3} box={d.box} />
            ))}
          </div>
        );
      })}
      <div ref={ref} style={{ position: 'absolute', left: 0, top: 0, width: 2896, height: 2769 }} />
    </div>
  );
};

export default App;
